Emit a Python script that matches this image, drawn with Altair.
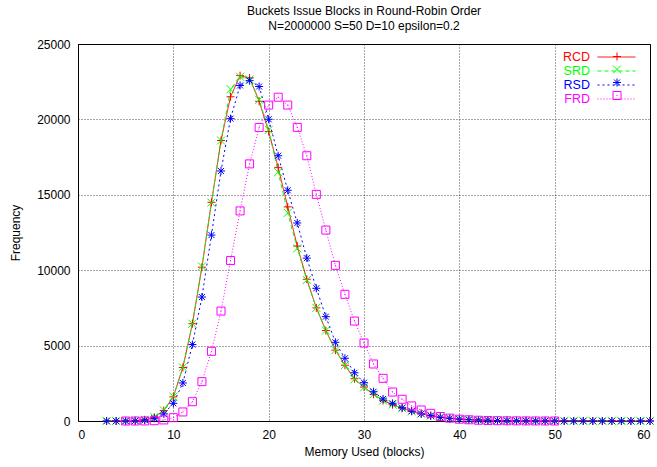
import altair as alt
import pandas as pd

series_names = ["RCD", "SRD", "RSD", "FRD"]
series_colors = ["#ff0000", "#00ff00", "#0000ff", "#ff00ff"]
series_dashes = [[1, 0], [4, 3], [2, 3], [1, 2]]
series_shapes = [
    "M-1,0H1M0,-1V1",
    "M-1,-1L1,1M-1,1L1,-1",
    "M-1,0H1M0,-1V1M-0.75,-0.75L0.75,0.75M-0.75,0.75L0.75,-0.75",
    "M-1,-1H1V1H-1ZM-0.12,0H0.12",
]
marker_keys = [n + "_m" for n in series_names]

x_main = list(range(3, 61))
rcd = [0, 0, 5, 20, 80, 250, 700, 1600, 3550, 6450,
       10200, 14500, 18600, 21500, 22900, 22750, 21200, 19200, 16800, 14200,
       11600, 9400, 7500, 6000, 4700, 3700, 2800, 2250, 1770, 1350,
       1080, 850, 640, 480, 350, 250, 180, 130, 95, 70,
       50, 35, 25, 18, 12, 8, 6, 4, 3, 2,
       2, 1, 1, 1, 0, 0, 0, 0]
srd = [0, 0, 5, 20, 80, 260, 710, 1620, 3560, 6450,
       10250, 14480, 18600, 22000, 22830, 22650, 21300, 19300, 16500, 13800,
       11450, 9350, 7500, 6000, 4700, 3710, 2770, 2230, 1770, 1350,
       1090, 850, 640, 480, 350, 250, 180, 130, 95, 70,
       50, 35, 25, 18, 12, 8, 6, 4, 3, 2,
       2, 1, 1, 1, 0, 0, 0, 0]
rsd = [0, 0, 2, 10, 50, 180, 470, 1170, 2520, 5070,
       8220, 12330, 16580, 20050, 22250, 22570, 22180, 20010, 17590, 15300,
       13130, 10800, 8800, 6920, 5220, 4160, 3200, 2540, 1940, 1460,
       1170, 880, 660, 480, 350, 240, 170, 120, 85, 60,
       42, 30, 21, 15, 10, 7, 5, 4, 3, 2,
       2, 1, 1, 1, 1, 0, 0, 0]
x_frd = list(range(5, 51))
frd = [0, 0, 5, 20, 70, 220, 600, 1280, 2610, 4620,
       7290, 10640, 13930, 17050, 19460, 20950, 21470, 20950, 19470, 17590,
       15030, 12660, 10320, 8400, 6630, 5170, 3780, 2830, 1920, 1440,
       1000, 730, 510, 300, 190, 120, 80, 50, 35, 20,
       14, 9, 6, 4, 2, 1]

x_ticks = [0, 10, 20, 30, 40, 50, 60]
y_ticks = [0, 5000, 10000, 15000, 20000, 25000]

rows = []
for name, xs, ys in [("RCD", x_main, rcd), ("SRD", x_main, srd),
                     ("RSD", x_main, rsd), ("FRD", x_frd, frd)]:
    for xv, yv in zip(xs, ys):
        rows.append({"x": xv, "y": yv, "series": name, "mk": name + "_m"})
df = pd.DataFrame(rows)


def by_field(field, keys, values):
    parts = [f"datum.{field} == '{k}' ? '{v}'" for k, v in zip(keys, values)]
    return " : ".join(parts) + f" : '{values[0]}'"


label_color_expr = by_field("label", series_names, series_colors)

FONT = "Liberation Sans"

x_enc = alt.X("x:Q", scale=alt.Scale(domain=[0, 60], nice=False),
              axis=alt.Axis(values=x_ticks, title="Memory Used (blocks)", format="d",
                            labelPadding=8, titlePadding=6))
y_enc = alt.Y("y:Q", scale=alt.Scale(domain=[0, 25000], nice=False),
              axis=alt.Axis(values=y_ticks, title="Frequency", format="d",
                            labelPadding=8, titlePadding=14))

# legend of the lines: label right-aligned, sample line drawn to its right
line_legend = alt.Legend(
    title=None, orient="none", legendX=498, legendY=6,
    symbolType="M2.23,0H8.08", symbolSize=169, symbolStrokeWidth=1,
    labelColor=alt.ExprRef(expr=label_color_expr),
    labelAlign="right", labelOffset=0,
    labelFontSize=12.5, labelFont=FONT,
    rowPadding=0,
)
# legend of the point markers, overlaid in the middle of each sample line
marker_legend = alt.Legend(
    title=None, orient="none", legendX=534, legendY=6,
    symbolSize=64, symbolStrokeWidth=1,
    labelOpacity=0,
    clipHeight=13, rowPadding=0,
)

lines = alt.Chart(df).mark_line(strokeWidth=1).encode(
    x=x_enc,
    y=y_enc,
    color=alt.Color("series:N", scale=alt.Scale(domain=series_names, range=series_colors),
                    legend=line_legend),
    strokeDash=alt.StrokeDash("series:N",
                              scale=alt.Scale(domain=series_names, range=series_dashes),
                              legend=line_legend),
)
points = alt.Chart(df).mark_point(filled=False, strokeWidth=1, size=64, opacity=1).encode(
    x=x_enc,
    y=y_enc,
    color=alt.Color("mk:N", scale=alt.Scale(domain=marker_keys, range=series_colors),
                    legend=marker_legend),
    shape=alt.Shape("mk:N", scale=alt.Scale(domain=marker_keys, range=series_shapes),
                    legend=marker_legend),
)

chart = alt.layer(lines, points).resolve_scale(
    color="independent", shape="independent", strokeDash="independent"
).properties(
    width=572, height=377,
    background="white",
    title=alt.Title(["Buckets Issue Blocks in Round-Robin Order",
                     "N=2000000 S=50 D=10 epsilon=0.2"],
                    fontSize=12, fontWeight="normal", font=FONT, color="black",
                    lineHeight=15, offset=5, anchor="middle"),
    autosize=alt.AutoSizeParams(type="none"),
    padding={"left": 78, "top": 44, "right": 7, "bottom": 46},
).configure_view(
    stroke="black", strokeWidth=1,
).configure_axis(
    labelFont=FONT, labelFontSize=12, labelColor="black",
    titleFont=FONT, titleFontSize=12, titleFontWeight="normal", titleColor="black",
    ticks=False, domain=False,
    grid=True, gridColor="black", gridDash=[1, 2], gridWidth=1, gridOpacity=0.7,
)

chart.save("out.html", embed_options={"renderer": "svg", "actions": False})
